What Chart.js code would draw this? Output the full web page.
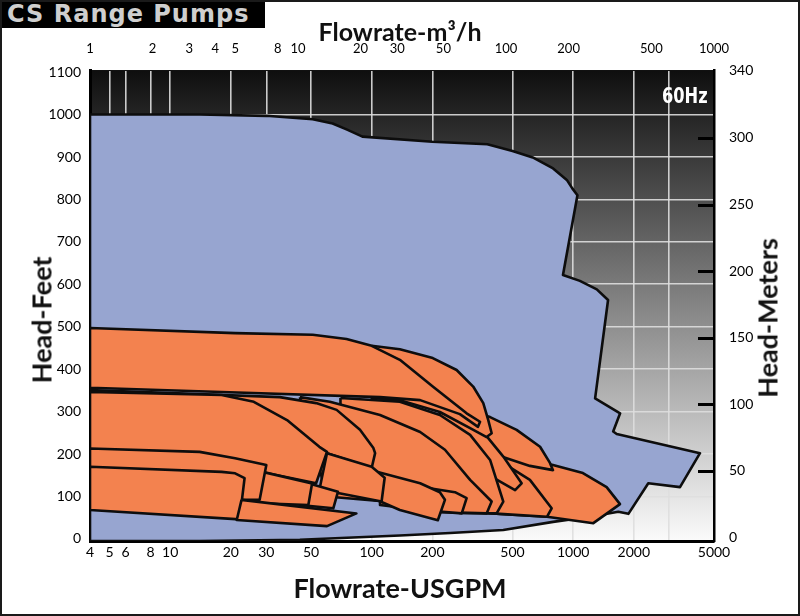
<!DOCTYPE html>
<html>
<head>
<meta charset="utf-8">
<script src="https://cdn.jsdelivr.net/npm/chart.js@4.4.1/dist/chart.umd.min.js"></script>
<style>
  html, body { margin: 0; padding: 0; background: #fff; }
  #wrap { position: relative; width: 800px; height: 616px; overflow: hidden; font-family: Lato, 'Open Sans', sans-serif; }
  #chart { position: absolute; left: 0; top: 0; }
  #frame { position: absolute; left: 0; top: 0; width: 800px; height: 616px; border: 2px solid #1a1a1a; box-sizing: border-box; pointer-events: none; }
  #badge { position: absolute; left: 0; top: 0; width: 265px; height: 28px; background: #000; color: #cfcfcf;
           font: bold 24px 'DejaVu Sans', sans-serif; line-height: 28px; padding-left: 7px; box-sizing: border-box; letter-spacing: 1px; }
  .ttl { position: absolute; font-weight: bold; color: #111; white-space: nowrap; line-height: 1; }
  #tTop { left: 0; width: 800px; top: 19px; text-align: center; font-size: 25px; }
  #tBottom { left: 0; width: 800px; top: 574px; text-align: center; font-size: 27px; }
  #tLeft { left: 41px; top: 320px; font-size: 27px; transform: translate(-50%, -50%) rotate(-90deg); }
  #tRight { left: 767px; top: 318px; font-size: 27px; transform: translate(-50%, -50%) rotate(-90deg); }
  #hz { position: absolute; right: 92px; top: 83px; color: #fff; font: bold 22px 'DejaVu Sans Condensed', 'DejaVu Sans', sans-serif;
        transform: scaleX(0.82); transform-origin: right center; }
</style>
</head>
<body>
<div id="wrap">
  <canvas id="chart" width="800" height="616"></canvas>
  <div id="badge">CS Range Pumps</div>
  <div class="ttl" id="tTop">Flowrate-m³/h</div>
  <div class="ttl" id="tBottom">Flowrate-USGPM</div>
  <div class="ttl" id="tLeft">Head-Feet</div>
  <div class="ttl" id="tRight">Head-Meters</div>
  <div id="hz">60Hz</div>
  <div id="frame"></div>
</div>
<script>
// ---- Axes ----
const GPM_TICKS   = [4, 5, 6, 8, 10, 20, 30, 50, 100, 200, 500, 1000, 2000, 3000, 5000];
const GPM_LABELS  = [4, 5, 6, 8, 10, 20, 30, 50, 100, 200, 500, 1000, 2000, 5000];
const M3H_TICKS   = [1, 2, 3, 4, 5, 8, 10, 20, 30, 50, 100, 200, 500, 1000];
const FEET_TICKS  = [0, 100, 200, 300, 400, 500, 600, 700, 800, 900, 1000, 1100];
const METER_TICKS = [0, 50, 100, 150, 200, 250, 300];
const METER_TOP_LABEL = '340';

// ---- Envelope of the whole range: [USGPM, feet] ----
const envelope = [
  [4, 1000], [14, 1000], [30, 997], [51, 989], [64, 979], [75, 965], [90, 948], [200, 936],
  [375, 930], [500, 914], [630, 899], [795, 873], [930, 846], [990, 826], [1050, 810],
  [890, 622], [1080, 608], [1310, 588], [1490, 563], [1285, 331], [1710, 296], [1580, 253],
  [1645, 247], [4260, 202], [3390, 122], [2360, 131], [1880, 59], [1675, 64],
  [1210, 52], [795, 40], [450, 21], [245, 14], [138, 8], [44, -2], [14, -5], [4, -5], [4, 1000]
];

// ---- Pump zones (back to front) ----
const zoneD  = [[195, 233], [308, 214], [486, 198], [794, 174], [1118, 155], [1466, 122], [1708, 82], [1259, 37], [741, 52], [433, 59], [195, 73], [195, 233]];
const zoneE  = [[218, 233], [387, 198], [610, 139], [782, 72], [741, 52], [433, 59], [218, 68], [218, 233]];
const zoneC  = [[290, 304], [387, 287], [524, 257], [685, 217], [767, 179], [794, 162], [610, 172], [448, 193], [345, 233], [290, 268], [290, 304]];
const zoneF  = [[218, 299], [345, 261], [450, 194], [555, 131], [515, 115], [345, 162], [218, 210], [218, 299]];
const zoneG2 = [[70, 332], [138, 323], [218, 292], [308, 245], [387, 186], [450, 88], [417, 60], [274, 61], [174, 80], [70, 115], [70, 332]];
const zoneG1 = [[44, 334], [62, 323], [110, 292], [174, 252], [231, 210], [308, 139], [394, 88], [372, 60], [218, 63], [138, 85], [60, 100], [44, 334]];
const zoneG4 = [[110, 143], [174, 123], [259, 110], [296, 96], [280, 60], [174, 68], [110, 80], [110, 143]];
const zoneG3 = [[106, 158], [174, 131], [218, 110], [231, 92], [213, 44], [138, 68], [112, 87], [106, 158]];
const zoneA2 = [[100, 455], [138, 447], [201, 426], [264, 398], [319, 359], [358, 320], [379, 280], [394, 249], [372, 240], [308, 261], [218, 299], [138, 327], [100, 332], [100, 455]];
const zoneA1 = [[4, 497], [21, 485], [51, 481], [75, 471], [100, 455], [138, 422], [201, 359], [296, 296], [345, 276], [337, 264], [274, 294], [174, 327], [110, 334], [18, 346], [4, 356], [4, 497]];
const zoneB2 = [[4, 351], [35, 334], [53, 320], [67, 304], [87.5, 257], [102, 214], [104, 202], [100, 167], [60, 202], [25, 233], [4, 257], [4, 351]];
const zoneB1 = [[4, 346], [18, 339], [26, 323], [38, 280], [55, 217], [60, 205], [53, 131], [30, 155], [4, 210], [4, 346]];
const zoneS6 = [[60, 202], [100, 170], [116, 144], [112, 88], [68, 108], [55, 115], [60, 202]];
const zoneS5 = [[44, 134], [52, 127], [68, 111], [64.5, 72], [44, 80], [44, 134]];
const zoneS4 = [[26.4, 162], [50.6, 130.5], [48.5, 80], [26.4, 84.6], [26.4, 162]];
const zoneS2 = [[4, 213], [14, 205], [21, 190], [30, 174], [27.8, 92], [4, 92], [4, 213]];
const zoneS1 = [[4, 170], [18, 158], [21, 154.5], [23.4, 143], [22.1, 46], [4, 68], [4, 170]];
const zoneS3 = [[22.6, 92], [84, 60], [60, 30], [21.4, 44.5], [22.6, 92]];

const ZONES = [zoneD, zoneE, zoneC, zoneF, zoneG2, zoneG1, zoneG4, zoneG3, zoneA2, zoneA1,
               zoneB2, zoneB1, zoneS6, zoneS5, zoneS4, zoneS2, zoneS1, zoneS3];

const BLUE   = '#97a5d0';
const ORANGE = '#f3824f';
const INK    = '#0d0d0d';

function polygon(points, fillColor) {
  return {
    data: points.map(([x, y]) => ({ x, y })),
    showLine: true,
    fill: 'shape',
    backgroundColor: fillColor,
    borderColor: INK,
    borderWidth: 2.6,
    borderJoinStyle: 'round',
    pointRadius: 0,
    tension: 0,
  };
}

// back-to-front list; Chart.js paints the first dataset last, so reverse
const backToFront = [polygon(envelope, BLUE), ...ZONES.map(z => polygon(z, ORANGE))];
const datasets = backToFront.slice().reverse();

// ---- Plugins ----
const backdrop = {
  id: 'backdrop',
  beforeDraw(chart) {
    const { ctx, chartArea: a } = chart;
    const g = ctx.createLinearGradient(0, a.top, 0, a.bottom);
    g.addColorStop(0, '#0e0e0e');
    g.addColorStop(1, '#fbfbfb');
    ctx.save();
    ctx.fillStyle = g;
    ctx.fillRect(a.left, a.top, a.right - a.left, a.bottom - a.top);
    ctx.restore();
  }
};

const innerTicks = {
  id: 'innerTicks',
  afterDraw(chart) {
    const { ctx, chartArea: a } = chart;
    const s = chart.scales.y2;
    ctx.save();
    ctx.strokeStyle = '#000';
    ctx.lineWidth = 3;
    METER_TICKS.slice(1).forEach(v => {
      const y = Math.round(s.getPixelForValue(v)) + 0.5;
      ctx.beginPath();
      ctx.moveTo(a.right - 16, y);
      ctx.lineTo(a.right, y);
      ctx.stroke();
    });
    ctx.restore();
  }
};

const tickFont = { family: 'Lato', size: 14 };
const gridColor = 'rgba(222,222,222,0.9)';

new Chart(document.getElementById('chart'), {
  type: 'scatter',
  data: { datasets },
  options: {
    responsive: false,
    animation: false,
    events: [],
    layout: { padding: 0 },
    plugins: { legend: { display: false }, tooltip: { enabled: false } },
    scales: {
      x: {
        type: 'logarithmic', position: 'bottom', min: 4, max: 5000, z: 1,
        afterBuildTicks: s => { s.ticks = GPM_TICKS.map(v => ({ value: v })); },
        afterFit: s => { s.height = 75; },
        ticks: {
          color: '#000', font: tickFont, padding: 3, maxRotation: 0, autoSkip: false,
          callback: v => GPM_LABELS.includes(v) ? String(v) : ''
        },
        grid: {
          drawTicks: false, lineWidth: 1.6,
          color: c => (c.tick && (c.tick.value === 4 || c.tick.value === 5000)) ? 'rgba(0,0,0,0)' : gridColor
        },
        border: { color: '#000', width: 3 }
      },
      x2: {
        type: 'logarithmic', position: 'top', min: 1, max: 1000,
        afterBuildTicks: s => { s.ticks = M3H_TICKS.map(v => ({ value: v })); },
        afterFit: s => { s.height = 70; },
        ticks: { color: '#000', font: { family: 'Lato', size: 13 }, padding: 5, maxRotation: 0, autoSkip: false,
                 callback: v => String(v) },
        grid: { display: false },
        border: { color: '#111', width: 1 }
      },
      y: {
        type: 'linear', position: 'left', min: -5, max: 1105, z: 1,
        afterBuildTicks: s => { s.ticks = FEET_TICKS.map(v => ({ value: v })); },
        afterFit: s => { s.width = 90; },
        ticks: { color: '#000', font: tickFont, padding: 9, callback: v => String(v) },
        grid: {
          drawTicks: false, lineWidth: 1.6,
          color: c => (c.tick && (c.tick.value === 0 || c.tick.value === 1100)) ? 'rgba(0,0,0,0)' : gridColor
        },
        border: { color: '#000', width: 3 }
      },
      y2: {
        type: 'linear', position: 'right', min: -2.6, max: 351,
        afterBuildTicks: s => { s.ticks = [...METER_TICKS, 351].map(v => ({ value: v })); },
        afterFit: s => { s.width = 86; },
        ticks: { color: '#000', font: tickFont, padding: 7,
                 callback: v => v > 340 ? METER_TOP_LABEL : String(v) },
        grid: { display: false },
        border: { color: '#000', width: 2.5 }
      }
    }
  },
  plugins: [backdrop, innerTicks]
});
</script>
</body>
</html>
